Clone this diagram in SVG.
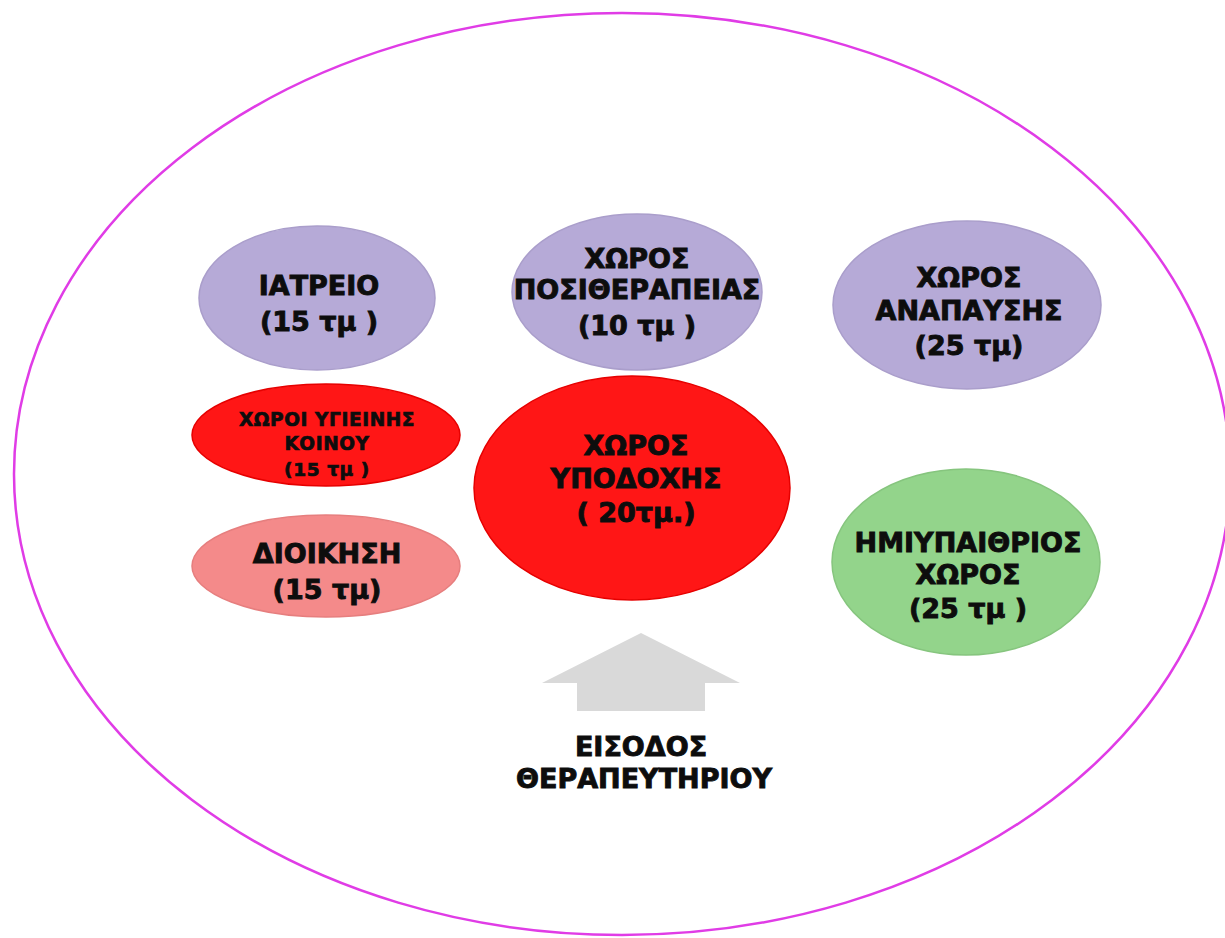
<svg xmlns="http://www.w3.org/2000/svg" width="1225" height="938" viewBox="0 0 1225 938">
<style>
.t{font-family:"DejaVu Sans","Liberation Sans",sans-serif;font-weight:bold;fill:#0d0d0d;stroke:#0d0d0d;stroke-width:0.9;text-anchor:middle;font-size:27px}
.s{font-size:18.5px;letter-spacing:0.6px;stroke-width:0.7}
.lav{fill:#b6aad7;stroke:#aa9ecb;stroke-width:1.5}
.red{fill:#ff1616;stroke:#e60000;stroke-width:1.5}
.pink{fill:#f48a8a;stroke:#e67e7e;stroke-width:1.5}
.grn{fill:#93d48b;stroke:#86c57e;stroke-width:1.5}
</style>
<rect width="1225" height="938" fill="#fff"/>
<ellipse id="boundary" cx="622" cy="474" rx="608" ry="461" fill="none" stroke="#e03ce6" stroke-width="2.5"/>
<g id="iatreio">
<ellipse class="lav" cx="317" cy="298" rx="118" ry="72"/>
<text class="t" x="319" y="295">ΙΑΤΡΕΙΟ</text>
<text class="t" x="319" y="331">(15 τμ )</text>
</g>
<g id="posi">
<ellipse class="lav" cx="637" cy="292" rx="125" ry="78"/>
<text class="t" x="637" y="268">ΧΩΡΟΣ</text>
<text class="t" x="637" y="299">ΠΟΣΙΘΕΡΑΠΕΙΑΣ</text>
<text class="t" x="637" y="335">(10 τμ )</text>
</g>
<g id="anapausi">
<ellipse class="lav" cx="967" cy="305" rx="134" ry="84"/>
<text class="t" x="969" y="287">ΧΩΡΟΣ</text>
<text class="t" x="969" y="320">ΑΝΑΠΑΥΣΗΣ</text>
<text class="t" x="969" y="355">(25 τμ)</text>
</g>
<g id="ygieini">
<ellipse class="red" cx="326" cy="435" rx="134" ry="51"/>
<text class="t s" x="327" y="426">ΧΩΡΟΙ ΥΓΙΕΙΝΗΣ</text>
<text class="t s" x="327" y="450">ΚΟΙΝΟΥ</text>
<text class="t s" x="327" y="476">(15 τμ )</text>
</g>
<g id="dioikisi">
<ellipse class="pink" cx="326" cy="566" rx="134" ry="51"/>
<text class="t" x="327" y="563">ΔΙΟΙΚΗΣΗ</text>
<text class="t" x="327" y="599">(15 τμ)</text>
</g>
<g id="ypodoxi">
<ellipse class="red" cx="632" cy="488" rx="158" ry="112"/>
<text class="t" x="636" y="455">ΧΩΡΟΣ</text>
<text class="t" x="636" y="488">ΥΠΟΔΟΧΗΣ</text>
<text class="t" x="636" y="522">( 20τμ.)</text>
</g>
<g id="imiypaithrios">
<ellipse class="grn" cx="966" cy="562" rx="134" ry="93"/>
<text class="t" x="968" y="552">ΗΜΙΥΠΑΙΘΡΙΟΣ</text>
<text class="t" x="968" y="584">ΧΩΡΟΣ</text>
<text class="t" x="968" y="618">(25 τμ )</text>
</g>
<g id="connectors">
<polygon points="641,633 740,683 705,683 705,711 577,711 577,683 542,683" fill="#d9d9d9"/>
</g>
<g id="entrance">
<text class="t" x="641" y="756">ΕΙΣΟΔΟΣ</text>
<text class="t" x="644" y="788">ΘΕΡΑΠΕΥΤΗΡΙΟΥ</text>
</g>
</svg>
